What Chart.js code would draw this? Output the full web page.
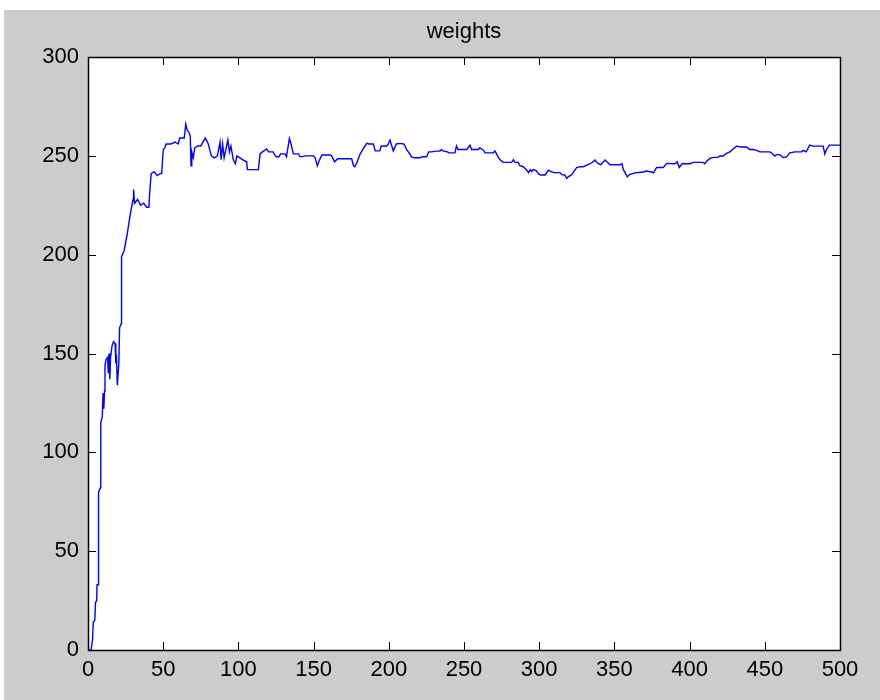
<!DOCTYPE html>
<html>
<head>
<meta charset="utf-8">
<script src="https://cdn.jsdelivr.net/npm/chart.js@4"></script>
<style>
  html, body { margin: 0; padding: 0; background: #ffffff; }
  #wrap { position: absolute; left: 4px; top: 10px; width: 876px; height: 690px; background: #cccccc; }
  canvas { display: block; }
</style>
</head>
<body>
<div id="wrap"><canvas id="c" width="876" height="690"></canvas></div>
<script>
const chartTitle = 'weights';
const xTickValues = [0, 50, 100, 150, 200, 250, 300, 350, 400, 450, 500];
const yTickValues = [0, 50, 100, 150, 200, 250, 300];

const iterations = [
  0, 2, 3, 3.5, 4.5, 5, 5.8, 6, 6.8, 7, 8.2, 8.5, 9.5, 10, 10.5, 11, 11.3, 12, 13, 13.5,
  14, 14.5, 15, 16, 17, 18, 18.5, 19, 19.5, 20.5, 21, 22, 22.3, 24, 26, 28, 30, 30.3, 31, 33,
  35, 37, 39, 40.5, 41, 42, 44, 46, 48, 49, 50, 51, 52, 55, 58, 60, 61, 64, 65, 66,
  67, 68, 68.5, 69, 70, 71, 73, 75, 78, 80, 82, 84, 86, 87.8, 88.5, 89.5, 90.5, 93, 94, 95,
  96.6, 98, 99, 101, 103, 105.5, 106, 108, 112, 113.3, 114.4, 116, 118.8, 120, 123, 125, 127, 128, 131, 132,
  133.9, 135, 136.5, 140, 141, 145, 150, 151, 152.5, 154, 155.5, 161, 162, 164, 166, 170, 175.3, 176.5, 177.5, 179,
  181, 183, 185.3, 187, 189.7, 191, 194, 195, 198.6, 199.7, 200.8, 202, 203, 205, 207.4, 210, 212, 213, 215.2, 217,
  220.7, 222, 225.2, 226.5, 228.5, 231, 234, 235, 236, 239, 240, 244, 245, 246, 251.8, 254, 255, 259.5, 260.5, 262.8,
  264, 269.5, 270.5, 271.7, 273, 274, 276, 281.7, 282.8, 284, 286.1, 287.2, 289.4, 291.5, 292.8, 294, 295, 296, 298, 299.4,
  301, 303.9, 306.1, 308, 310, 313.8, 315, 317, 318.3, 319.5, 321.6, 323, 324.9, 327, 329.3, 331, 333.8, 335, 337.1, 338,
  339.3, 341, 343.8, 345, 347.1, 353.7, 355, 356, 358.6, 360, 363.7, 369.2, 371, 374.8, 376, 378.1, 382.5, 384.8, 390.3, 391.8,
  393.1, 395, 400.2, 402.4, 409, 410, 411.7, 413.5, 416, 419, 420, 422.3, 424.5, 426.8, 428.5, 431.2, 434, 437.8, 440, 442.3,
  444.5, 446.7, 453.4, 455.5, 456.7, 458, 460, 462.2, 464.5, 466.6, 470, 474.4, 475.5, 477.5, 479.9, 482, 488.8, 489.9, 491, 493,
  500
];
const weights = [
  0, 0, 5, 14, 15, 24, 25, 33, 33, 80, 82, 115, 118, 130, 122, 131, 144, 147, 148, 140,
  150, 137, 148, 154, 156, 155, 145, 147, 134, 145, 163, 165, 199, 202, 210, 220, 228, 233, 226, 228,
  225, 226, 224, 224, 231, 241, 242, 240, 241, 241, 253, 254, 256, 256, 257, 256, 259, 259, 266, 263,
  262, 260, 245, 252, 249, 254, 255, 255, 259, 256, 250, 249, 250, 257, 248, 256, 249, 258, 252, 255,
  248, 246, 250, 249, 248, 247, 243, 243, 243, 243, 251, 252, 253.5, 252, 252, 249.5, 249.5, 251, 251, 249.5,
  258.8, 256, 251, 251, 249.5, 250, 250, 249, 245, 248, 250.4, 250.4, 250, 247, 248.5, 248.5, 248.5, 245, 244.5, 247,
  251, 253.5, 256.3, 256, 256, 252.5, 252.5, 255, 255, 256, 258, 255, 252.5, 256, 256.3, 256, 253, 252, 249.5, 249,
  249, 249.5, 249.5, 252, 252, 252.4, 252.4, 253.2, 252.5, 252, 251.5, 251.5, 255, 253.2, 253.2, 255.4, 253.2, 253.2, 254, 253,
  251.5, 251.5, 252.5, 251, 249, 248, 246.7, 246.7, 248, 246.7, 246.7, 245, 244.5, 243, 241.5, 243, 242, 243, 242.5, 241,
  240.3, 240.3, 242.8, 242, 241.5, 241.5, 240.5, 240.3, 238.6, 239.5, 240.5, 242, 244, 244.5, 244.5, 245, 246, 246.5, 247.9, 247,
  246, 245.5, 247.9, 247, 245.5, 245.5, 246, 243, 239.4, 240.5, 241.4, 241.8, 242.3, 241.8, 241.4, 244.1, 244.1, 246.2, 246, 247,
  244.1, 246, 246, 246.7, 246.7, 246, 247.5, 248.7, 249.2, 249.2, 249.9, 249.9, 251.2, 252, 253.2, 254.9, 254.5, 254.5, 253.2, 253.2,
  252.8, 252, 252, 250.8, 249.9, 250.6, 250.6, 249.2, 249.5, 251.5, 252, 252, 252.8, 252, 255.4, 254.9, 254.9, 250.9, 253.2, 255.4,
  255.4
];

const points = iterations.map((x, i) => ({ x: x, y: weights[i] }));

const boxAndTicks = {
  id: 'boxAndTicks',
  afterDraw(chart) {
    const ctx = chart.ctx;
    const a = chart.chartArea;
    const xs = chart.scales.x, ys = chart.scales.y;
    const tl = 8;
    ctx.save();
    ctx.strokeStyle = '#000000';
    ctx.lineWidth = 1;
    ctx.beginPath();
    xTickValues.forEach(v => {
      const px = Math.round(xs.getPixelForValue(v)) + 0.5;
      ctx.moveTo(px, a.bottom); ctx.lineTo(px, a.bottom - tl);
      ctx.moveTo(px, a.top); ctx.lineTo(px, a.top + tl);
    });
    yTickValues.forEach(v => {
      const py = Math.round(ys.getPixelForValue(v)) + 0.5;
      ctx.moveTo(a.left, py); ctx.lineTo(a.left + tl, py);
      ctx.moveTo(a.right, py); ctx.lineTo(a.right - tl, py);
    });
    ctx.stroke();
    ctx.lineWidth = 1.5;
    ctx.strokeRect(Math.round(a.left) + 0.5, Math.round(a.top) + 0.5,
                   Math.round(a.right - a.left), Math.round(a.bottom - a.top));
    ctx.restore();
  }
};

const plotBg = {
  id: 'plotBg',
  beforeDatasetsDraw(chart) {
    const a = chart.chartArea;
    const ctx = chart.ctx;
    ctx.save();
    ctx.fillStyle = '#ffffff';
    ctx.fillRect(a.left, a.top, a.right - a.left, a.bottom - a.top);
    ctx.restore();
  }
};

const FONT = "'Liberation Sans', Arial, sans-serif";

new Chart(document.getElementById('c'), {
  type: 'line',
  data: {
    datasets: [{
      data: points,
      borderColor: '#0000ff',
      borderWidth: 1.4,
      pointRadius: 0,
      tension: 0,
      fill: false
    }]
  },
  options: {
    responsive: false,
    animation: false,
    devicePixelRatio: 1,
    layout: { padding: { left: 0, right: 40, top: 0, bottom: 0 } },
    plugins: {
      legend: { display: false },
      tooltip: { enabled: false },
      title: {
        display: true,
        fullSize: false,
        text: chartTitle,
        color: '#000000',
        font: { family: FONT, size: 22, weight: 'normal' },
        padding: { top: 9, bottom: 11.6 }
      }
    },
    scales: {
      x: {
        type: 'linear',
        min: 0, max: 500,
        grid: { display: false, drawTicks: false },
        border: { display: false },
        afterBuildTicks(scale) { scale.ticks = xTickValues.map(v => ({ value: v })); },
        afterFit(scale) { scale.height = 50; },
        ticks: {
          color: '#000000',
          padding: 7,
          maxRotation: 0,
          autoSkip: false,
          font: { family: FONT, size: 22 }
        }
      },
      y: {
        type: 'linear',
        min: 0, max: 300,
        grid: { display: false, drawTicks: false },
        border: { display: false },
        afterBuildTicks(scale) { scale.ticks = yTickValues.map(v => ({ value: v })); },
        afterFit(scale) { scale.width = 84; },
        ticks: {
          color: '#000000',
          padding: 9,
          autoSkip: false,
          font: { family: FONT, size: 22 }
        }
      }
    }
  },
  plugins: [plotBg, boxAndTicks]
});
</script>
</body>
</html>
